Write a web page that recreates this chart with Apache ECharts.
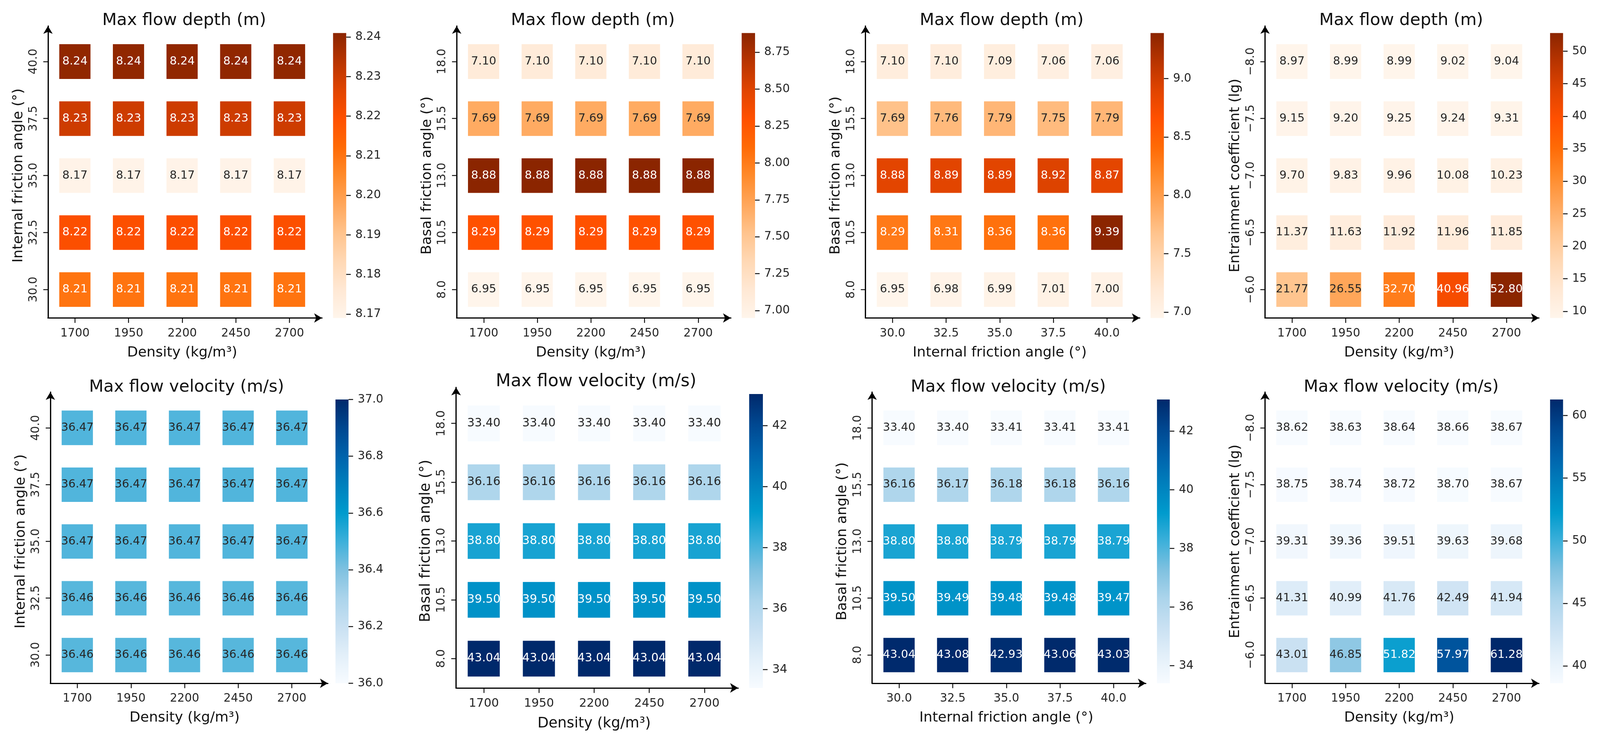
<!DOCTYPE html>
<html>
<head>
<meta charset="utf-8">
<style>html,body{margin:0;padding:0;background:#fff;overflow:hidden}#chart{width:100vw;height:100vh}</style>
<script src="https://cdn.jsdelivr.net/npm/echarts@6/dist/echarts.min.js"></script>
</head>
<body>
<div id="chart"></div>
<script>
// ---------- categories / tick labels ----------
const densityCats = ['1700', '1950', '2200', '2450', '2700'];
const internalCats = ['30.0', '32.5', '35.0', '37.5', '40.0'];
const basalCats = ['8.0', '10.5', '13.0', '15.5', '18.0'];
const entrainCats = ['\u22126.0', '\u22126.5', '\u22127.0', '\u22127.5', '\u22128.0'];

// ---------- values: rows listed bottom row first ----------
const depthDensityInternal = [
  [8.21, 8.21, 8.21, 8.21, 8.21],
  [8.22, 8.22, 8.22, 8.22, 8.22],
  [8.17, 8.17, 8.17, 8.17, 8.17],
  [8.23, 8.23, 8.23, 8.23, 8.23],
  [8.24, 8.24, 8.24, 8.24, 8.24]
];
const depthDensityBasal = [
  [6.95, 6.95, 6.95, 6.95, 6.95],
  [8.29, 8.29, 8.29, 8.29, 8.29],
  [8.88, 8.88, 8.88, 8.88, 8.88],
  [7.69, 7.69, 7.69, 7.69, 7.69],
  [7.10, 7.10, 7.10, 7.10, 7.10]
];
const depthInternalBasal = [
  [6.95, 6.98, 6.99, 7.01, 7.00],
  [8.29, 8.31, 8.36, 8.36, 9.39],
  [8.88, 8.89, 8.89, 8.92, 8.87],
  [7.69, 7.76, 7.79, 7.75, 7.79],
  [7.10, 7.10, 7.09, 7.06, 7.06]
];
const depthDensityEntrain = [
  [21.77, 26.55, 32.70, 40.96, 52.80],
  [11.37, 11.63, 11.92, 11.96, 11.85],
  [9.70, 9.83, 9.96, 10.08, 10.23],
  [9.15, 9.20, 9.25, 9.24, 9.31],
  [8.97, 8.99, 8.99, 9.02, 9.04]
];
const velDensityInternal = [
  [36.46, 36.46, 36.46, 36.46, 36.46],
  [36.46, 36.46, 36.46, 36.46, 36.46],
  [36.47, 36.47, 36.47, 36.47, 36.47],
  [36.47, 36.47, 36.47, 36.47, 36.47],
  [36.47, 36.47, 36.47, 36.47, 36.47]
];
const velDensityBasal = [
  [43.04, 43.04, 43.04, 43.04, 43.04],
  [39.50, 39.50, 39.50, 39.50, 39.50],
  [38.80, 38.80, 38.80, 38.80, 38.80],
  [36.16, 36.16, 36.16, 36.16, 36.16],
  [33.40, 33.40, 33.40, 33.40, 33.40]
];
const velInternalBasal = [
  [43.04, 43.08, 42.93, 43.06, 43.03],
  [39.50, 39.49, 39.48, 39.48, 39.47],
  [38.80, 38.80, 38.79, 38.79, 38.79],
  [36.16, 36.17, 36.18, 36.18, 36.16],
  [33.40, 33.40, 33.41, 33.41, 33.41]
];
const velDensityEntrain = [
  [43.01, 46.85, 51.82, 57.97, 61.28],
  [41.31, 40.99, 41.76, 42.49, 41.94],
  [39.31, 39.36, 39.51, 39.63, 39.68],
  [38.75, 38.74, 38.72, 38.70, 38.67],
  [38.62, 38.63, 38.64, 38.66, 38.67]
];

// ---------- colour-bar ranges and ticks ----------
const cbRange = [[8.169, 8.241], [6.95, 8.88], [6.95, 9.39], [8.97, 52.80],
                 [36.0, 37.0], [33.40, 43.04], [33.40, 43.08], [38.62, 61.28]];
const cbTicks = [
  [8.17, 8.18, 8.19, 8.20, 8.21, 8.22, 8.23, 8.24],
  [7.00, 7.25, 7.50, 7.75, 8.00, 8.25, 8.50, 8.75],
  [7.0, 7.5, 8.0, 8.5, 9.0],
  [10, 15, 20, 25, 30, 35, 40, 45, 50],
  [36.0, 36.2, 36.4, 36.6, 36.8, 37.0],
  [34, 36, 38, 40, 42],
  [34, 36, 38, 40, 42],
  [40, 45, 50, 55, 60]
];
const cbDecimals = [2, 2, 1, 0, 1, 0, 0, 0];

// ---------- panels ----------
const titles = ['Max flow depth (m)', 'Max flow depth (m)', 'Max flow depth (m)', 'Max flow depth (m)',
  'Max flow velocity (m/s)', 'Max flow velocity (m/s)', 'Max flow velocity (m/s)', 'Max flow velocity (m/s)'];
const xNames = ['Density (kg/m\u00b3)', 'Density (kg/m\u00b3)', 'Internal friction angle (\u00b0)', 'Density (kg/m\u00b3)',
  'Density (kg/m\u00b3)', 'Density (kg/m\u00b3)', 'Internal friction angle (\u00b0)', 'Density (kg/m\u00b3)'];
const yNames = ['Internal friction angle (\u00b0)', 'Basal friction angle (\u00b0)', 'Basal friction angle (\u00b0)', 'Entrainment coefficient (lg)',
  'Internal friction angle (\u00b0)', 'Basal friction angle (\u00b0)', 'Basal friction angle (\u00b0)', 'Entrainment coefficient (lg)'];
const xCats = [densityCats, densityCats, internalCats, densityCats, densityCats, densityCats, internalCats, densityCats];
const yCats = [internalCats, basalCats, basalCats, entrainCats, internalCats, basalCats, basalCats, entrainCats];
const values = [depthDensityInternal, depthDensityBasal, depthInternalBasal, depthDensityEntrain,
  velDensityInternal, velDensityBasal, velInternalBasal, velDensityEntrain];

// ---------- colour maps (evenly spaced stops) ----------
const orangeMap = ['#fff5eb', '#ffe8d4', '#ffd8b4', '#ffc38c', '#ffa65a', '#ff8a2a', '#ff6a05', '#ff5000', '#e04400', '#b83400', '#8b2500'];
const blueMap = ['#f7fbff', '#e2eff9', '#c8e0f2', '#abd4eb', '#7fc1e0', '#3db0da', '#009bcd', '#0080bd', '#0063ac', '#004790', '#00296b'];

// ---------- layout, measured on the 4375x1888 reference ----------
const refW = 4375, refH = 1888;
const layouts = [
  {l: 131.7,  t: 84.5,   w: 733, h: 729, cb: 910.7,  cbw: 36,   ar: 890,    at: 57.5, ty: 48,    s: 1},
  {l: 1249.3, t: 84.5,   w: 733, h: 729, cb: 2028,   cbw: 36.6, ar: 2008,   at: 57.5, ty: 48,    s: 1},
  {l: 2367.1, t: 84.5,   w: 733, h: 729, cb: 3146,   cbw: 36.5, ar: 3126,   at: 57.5, ty: 48,    s: 1},
  {l: 3459.6, t: 84.5,   w: 733, h: 729, cb: 4238.5, cbw: 35.5, ar: 4217.5, at: 57.5, ty: 48,    s: 1},
  {l: 138.3,  t: 1022,   w: 733, h: 726, cb: 917.3,  cbw: 35.7, ar: 906,    at: 994,  ty: 986,   s: 1},
  {l: 1247.6, t: 1007.9, w: 754, h: 752, cb: 2048.5, cbw: 37.5, ar: 2028,   at: 982,  ty: 971.5, s: 1.028},
  {l: 2385.3, t: 1022,   w: 733, h: 726, cb: 3163.6, cbw: 35,   ar: 3142.5, at: 994,  ty: 986,   s: 1},
  {l: 3459.6, t: 1022,   w: 733, h: 726, cb: 4238.5, cbw: 35.5, ar: 4217.5, at: 994,  ty: 986,   s: 1}
];

// The layout follows the real window: the sandbox reports 4096 wide although
// 4375 is requested, so everything horizontal is scaled to keep all panels in view.
const el = document.getElementById('chart');
const W = el.clientWidth || refW, H = el.clientHeight || refH;
const sx = W / refW, sy = H / refH;

const FONT = 'DejaVu Sans';
const INK = '#262626';
const option = {
  backgroundColor: '#ffffff', animation: false, textStyle: {fontFamily: FONT},
  title: [], grid: [], xAxis: [], yAxis: [], visualMap: [], series: []
};

const n = titles.length;
const heatSeries = [], barSeries = [];

// heatmap grids: indices 0..n-1
for (let i = 0; i < n; i++) {
  const L = layouts[i], fs = L.s * sx;
  const cmap = i < 4 ? orangeMap : blueMap;
  const [vmin, vmax] = cbRange[i];
  const tickFont = 31.5 * fs, nameFont = 38.5 * fs, titleFont = 46 * fs;

  option.title.push({
    text: titles[i], left: (L.l + L.w / 2) * sx, top: L.ty * sy - titleFont / 2, textAlign: 'center',
    textStyle: {fontFamily: FONT, fontSize: titleFont, fontWeight: 'normal', color: '#111', lineHeight: titleFont}
  });

  option.grid.push({left: L.l * sx, top: L.t * sy, width: L.w * sx, height: L.h * sy, containLabel: false});
  const catAxis = {
    type: 'category', gridIndex: i, z: 5,
    axisLine: {show: false},
    axisTick: {show: true, alignWithLabel: true, length: 12.5 * L.s, lineStyle: {color: '#111', width: 2.4}},
    splitLine: {show: false}, splitArea: {show: false},
    nameLocation: 'middle',
    nameTextStyle: {fontFamily: FONT, fontSize: nameFont, color: '#111'}
  };
  option.xAxis.push(Object.assign({}, catAxis, {
    data: xCats[i], name: xNames[i], nameGap: 85 * L.s * sy - 0.39 * nameFont,
    axisLabel: {fontFamily: FONT, fontSize: tickFont, color: INK, margin: 37 * L.s * sy - 0.41 * tickFont, interval: 0}
  }));
  option.yAxis.push(Object.assign({}, catAxis, {
    data: yCats[i], name: yNames[i], nameGap: 62 * fs,
    axisLabel: {fontFamily: FONT, fontSize: tickFont, color: INK, margin: 24 * fs, rotate: 90, interval: 0}
  }));

  option.visualMap.push({
    type: 'continuous', show: false, seriesIndex: i, dimension: 2,
    min: vmin, max: vmax, inRange: {color: cmap}
  });

  const cells = [];
  values[i].forEach((row, r) => row.forEach((v, c) => {
    const frac = (v - vmin) / (vmax - vmin);
    cells.push({value: [c, r, v], label: {color: frac < 0.5 ? INK : '#ffffff'}});
  }));
  const bandAvg = (L.w * sx + L.h * sy) / 10;
  heatSeries.push({
    type: 'heatmap', xAxisIndex: i, yAxisIndex: i, data: cells, silent: true,
    itemStyle: {borderColor: '#ffffff', borderWidth: 0.405 * bandAvg},
    label: {
      show: true, fontFamily: FONT, fontSize: 31 * fs,
      formatter: p => p.value[2].toFixed(2)
    },
    emphasis: {disabled: true}
  });
}

// colour-bar grids: indices n..2n-1
for (let i = 0; i < n; i++) {
  const L = layouts[i], fs = L.s * sx;
  const cmap = i < 4 ? orangeMap : blueMap;
  const [vmin, vmax] = cbRange[i];
  const ci = n + i;
  option.grid.push({left: L.cb * sx, top: L.t * sy, width: L.cbw * sx, height: L.h * sy});
  option.xAxis.push({type: 'category', gridIndex: ci, data: ['bar'], show: false});
  option.yAxis.push({
    type: 'value', gridIndex: ci, position: 'right', min: vmin, max: vmax, z: 5,
    axisLine: {show: false}, splitLine: {show: false},
    axisTick: {show: true, customValues: cbTicks[i], length: 12.5 * fs, lineStyle: {color: '#111', width: 2.4}},
    axisLabel: {
      show: true, customValues: cbTicks[i], fontFamily: FONT, fontSize: 31.5 * fs, color: INK, margin: 25 * fs,
      formatter: v => v.toFixed(cbDecimals[i])
    }
  });
  barSeries.push({
    type: 'bar', xAxisIndex: ci, yAxisIndex: ci, data: [vmax], barWidth: '100%', silent: true,
    itemStyle: {
      color: new echarts.graphic.LinearGradient(0, 1, 0, 0,
        cmap.map((c, k) => ({offset: k / (cmap.length - 1), color: c})))
    },
    emphasis: {disabled: true}
  });
}

// arrowed spines: blank axes that run beyond the heatmap, indices 2n..3n-1
for (let i = 0; i < n; i++) {
  const L = layouts[i], fs = L.s * sx;
  const ai = 2 * n + i;
  const bottom = (L.t + L.h) * sy;
  const head = 9;
  option.grid.push({
    left: L.l * sx - 0.5, top: L.at * sy + head,
    width: L.ar * sx - head - L.l * sx + 0.5, height: bottom - L.at * sy - head
  });
  const spine = {
    type: 'value', gridIndex: ai, min: 0, max: 1, z: 6,
    axisLine: {show: true, onZero: false, symbol: ['none', 'arrow'], symbolSize: [18 * L.s, 20 * L.s], lineStyle: {color: '#000', width: 3.2}},
    axisTick: {show: false}, axisLabel: {show: false}, splitLine: {show: false}
  };
  option.xAxis.push(Object.assign({}, spine));
  option.yAxis.push(Object.assign({}, spine));
}

option.series = heatSeries.concat(barSeries);

const chart = echarts.init(el, null, {renderer: 'canvas'});
chart.setOption(option);
</script>
</body>
</html>
